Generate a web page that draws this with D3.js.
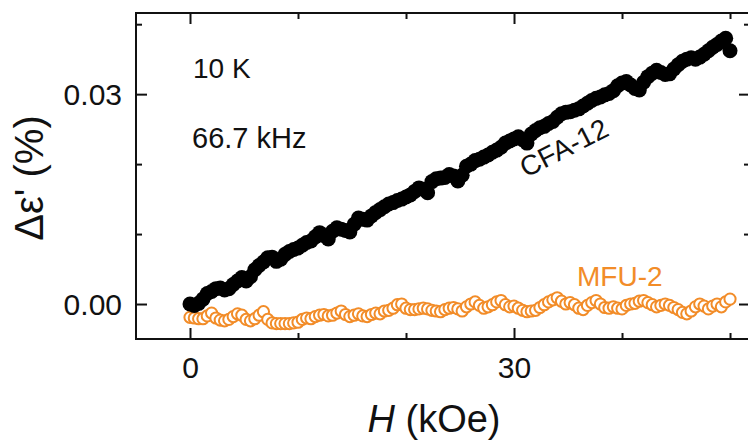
<!DOCTYPE html>
<html>
<head>
<meta charset="utf-8">
<script src="https://cdn.jsdelivr.net/npm/d3@7"></script>
<style>
  html, body { margin: 0; padding: 0; background: #fff; }
  svg { display: block; }
  text { font-family: "Liberation Sans", Arial, sans-serif; fill: #111; }
</style>
</head>
<body>
<svg id="chart" width="748" height="442"></svg>
<script>
// ---------------- data ----------------
const fieldKOe = [
  0.0, 0.4, 0.8, 1.2, 1.6, 2.0, 2.4, 2.8, 3.2, 3.6, 4.0, 4.4, 4.8, 5.2, 5.6, 6.0, 6.4, 6.8, 7.2, 7.6,
  8.0, 8.4, 8.8, 9.2, 9.6, 10.0, 10.4, 10.8, 11.2, 11.6, 12.0, 12.4, 12.8, 13.2, 13.6, 14.0, 14.4, 14.8, 15.2, 15.6,
  16.0, 16.4, 16.8, 17.2, 17.6, 18.0, 18.4, 18.8, 19.2, 19.6, 20.0, 20.4, 20.8, 21.2, 21.6, 22.0, 22.4, 22.8, 23.2, 23.6,
  24.0, 24.4, 24.8, 25.2, 25.6, 26.0, 26.4, 26.8, 27.2, 27.6, 28.0, 28.4, 28.8, 29.2, 29.6, 30.0, 30.4, 30.8, 31.2, 31.6,
  32.0, 32.4, 32.8, 33.2, 33.6, 34.0, 34.4, 34.8, 35.2, 35.6, 36.0, 36.4, 36.8, 37.2, 37.6, 38.0, 38.4, 38.8, 39.2, 39.6,
  40.0, 40.4, 40.8, 41.2, 41.6, 42.0, 42.4, 42.8, 43.2, 43.6, 44.0, 44.4, 44.8, 45.2, 45.6, 46.0, 46.4, 46.8, 47.2, 47.6,
  48.0, 48.4, 48.8, 49.2, 49.6, 50.0
];

// CFA-12, delta eps' (%)
const cfa12 = [
  0.0000, -0.0002, 0.0001, 0.0007, 0.0015, 0.0018, 0.0022, 0.0023, 0.0020, 0.0022, 0.0028, 0.0033, 0.0038, 0.0033, 0.0039, 0.0049, 0.0055, 0.0060, 0.0066, 0.0067,
  0.0061, 0.0064, 0.0071, 0.0075, 0.0078, 0.0080, 0.0084, 0.0088, 0.0090, 0.0096, 0.0102, 0.0098, 0.0093, 0.0104, 0.0109, 0.0107, 0.0105, 0.0103, 0.0114, 0.0123,
  0.0121, 0.0120, 0.0126, 0.0131, 0.0135, 0.0139, 0.0143, 0.0145, 0.0148, 0.0150, 0.0153, 0.0156, 0.0161, 0.0166, 0.0164, 0.0159, 0.0175, 0.0179, 0.0180, 0.0181,
  0.0185, 0.0183, 0.0176, 0.0184, 0.0197, 0.0200, 0.0205, 0.0207, 0.0210, 0.0213, 0.0217, 0.0220, 0.0224, 0.0230, 0.0233, 0.0236, 0.0239, 0.0235, 0.0230, 0.0243,
  0.0248, 0.0252, 0.0254, 0.0258, 0.0261, 0.0267, 0.0272, 0.0274, 0.0275, 0.0277, 0.0279, 0.0283, 0.0287, 0.0291, 0.0294, 0.0296, 0.0299, 0.0301, 0.0305, 0.0312,
  0.0316, 0.0318, 0.0313, 0.0308, 0.0306, 0.0317, 0.0325, 0.0330, 0.0334, 0.0331, 0.0328, 0.0329, 0.0336, 0.0342, 0.0347, 0.0350, 0.0352, 0.0350, 0.0353, 0.0357,
  0.0362, 0.0367, 0.0371, 0.0376, 0.0380, 0.0362
];

// MFU-2, delta eps' (%)
const mfu2 = [
  -0.0019, -0.0020, -0.0021, -0.0021, -0.0017, -0.0013, -0.0020, -0.0023, -0.0024, -0.0022, -0.0018, -0.0014, -0.0016, -0.0022, -0.0024, -0.0021, -0.0016, -0.0011, -0.0022, -0.0027,
  -0.0028, -0.0028, -0.0028, -0.0028, -0.0027, -0.0026, -0.0022, -0.0020, -0.0021, -0.0018, -0.0016, -0.0015, -0.0017, -0.0016, -0.0013, -0.0010, -0.0015, -0.0018, -0.0016, -0.0014,
  -0.0017, -0.0018, -0.0015, -0.0013, -0.0014, -0.0010, -0.0009, -0.0006, -0.0001, 0.0000, -0.0006, -0.0008, -0.0008, -0.0007, -0.0006, -0.0007, -0.0009, -0.0010, -0.0011, -0.0008,
  -0.0006, -0.0005, -0.0007, -0.0010, -0.0004, 0.0000, 0.0003, -0.0002, -0.0006, -0.0004, -0.0001, 0.0003, 0.0005, -0.0001, -0.0004, -0.0003, -0.0006, -0.0009, -0.0011, -0.0010,
  -0.0009, -0.0005, -0.0001, 0.0003, 0.0006, 0.0009, 0.0004, 0.0000, 0.0002, -0.0001, -0.0006, -0.0008, -0.0002, 0.0002, 0.0005, 0.0000, -0.0005, -0.0006, -0.0004, -0.0006,
  -0.0007, -0.0002, 0.0000, 0.0001, 0.0004, 0.0005, 0.0002, -0.0001, -0.0004, -0.0002, 0.0000, -0.0002, -0.0005, -0.0008, -0.0012, -0.0014, -0.0010, -0.0004, 0.0000, -0.0003,
  -0.0007, -0.0003, 0.0000, -0.0004, 0.0003, 0.0007
];

const xMajorTicks = [0, 30];
const xMinorTicks = [10, 20, 40, 50];
const yMajorTicks = [0.00, 0.03];
const yMinorTicks = [0.01, 0.02, 0.04];

const xTitleItalic = "H";
const xTitleRest = " (kOe)";
const yTitle = "Δε' (%)";
const annotations = ["10 K", "66.7 kHz"];
const seriesNames = ["CFA-12", "MFU-2"];

// ---------------- layout ----------------
const plot = { left: 136, right: 750, top: 13, bottom: 339 };
const orange = "#F28C28";

const svg = d3.select("#chart");

const x = d3.scaleLinear().domain([-5, 51.85]).range([plot.left, plot.right]);
const y = d3.scaleLinear().domain([-0.005, 0.0416]).range([plot.bottom, plot.top]);

// ---------------- series ----------------
const cfaData = fieldKOe.map((h, i) => ({ h, v: cfa12[i] }));
const mfuData = fieldKOe.map((h, i) => ({ h, v: mfu2[i] }));

svg.append("g").selectAll("circle")
  .data(mfuData).join("circle")
  .attr("cx", d => x(d.h)).attr("cy", d => y(d.v)).attr("r", 5.6)
  .attr("fill", "#fff").attr("stroke", orange).attr("stroke-width", 2);

svg.append("g").selectAll("circle")
  .data(cfaData).join("circle")
  .attr("cx", d => x(d.h)).attr("cy", d => y(d.v)).attr("r", 7.5)
  .attr("fill", "#000");

// ---------------- axes ----------------
function styleAxis(g) {
  g.select(".domain").remove();
  g.selectAll(".tick line").attr("stroke", "#111").attr("stroke-width", 2);
  g.selectAll(".tick text").attr("fill", "#111").style("font-family", '"Liberation Sans", Arial, sans-serif');
}

// bottom
svg.append("g").attr("transform", `translate(0,${plot.bottom})`)
  .call(d3.axisBottom(x).tickValues(xMinorTicks).tickSizeInner(-6).tickSizeOuter(0).tickFormat(""))
  .call(styleAxis);
svg.append("g").attr("transform", `translate(0,${plot.bottom})`)
  .call(d3.axisBottom(x).tickValues(xMajorTicks).tickSizeInner(-11).tickSizeOuter(0).tickPadding(18).tickFormat(d3.format("d")))
  .call(styleAxis)
  .call(g => g.selectAll(".tick text").style("font-size", "30px").attr("dy", "0.71em"));
// top
svg.append("g").attr("transform", `translate(0,${plot.top})`)
  .call(d3.axisTop(x).tickValues(xMinorTicks).tickSizeInner(-6).tickSizeOuter(0).tickFormat(""))
  .call(styleAxis);
svg.append("g").attr("transform", `translate(0,${plot.top})`)
  .call(d3.axisTop(x).tickValues(xMajorTicks).tickSizeInner(-11).tickSizeOuter(0).tickFormat(""))
  .call(styleAxis);
// left
svg.append("g").attr("transform", `translate(${plot.left},0)`)
  .call(d3.axisLeft(y).tickValues(yMinorTicks).tickSizeInner(-6).tickSizeOuter(0).tickFormat(""))
  .call(styleAxis);
svg.append("g").attr("transform", `translate(${plot.left},0)`)
  .call(d3.axisLeft(y).tickValues(yMajorTicks).tickSizeInner(-11).tickSizeOuter(0).tickPadding(14).tickFormat(d3.format(".2f")))
  .call(styleAxis)
  .call(g => g.selectAll(".tick text").style("font-size", "30px").attr("dy", "0.36em"));
// right
svg.append("g").attr("transform", `translate(${plot.right},0)`)
  .call(d3.axisRight(y).tickValues(yMinorTicks).tickSizeInner(-6).tickSizeOuter(0).tickFormat(""))
  .call(styleAxis);
svg.append("g").attr("transform", `translate(${plot.right},0)`)
  .call(d3.axisRight(y).tickValues(yMajorTicks).tickSizeInner(-11).tickSizeOuter(0).tickFormat(""))
  .call(styleAxis);

// frame
svg.append("rect")
  .attr("x", plot.left).attr("y", plot.top)
  .attr("width", plot.right - plot.left).attr("height", plot.bottom - plot.top)
  .attr("fill", "none").attr("stroke", "#111").attr("stroke-width", 2);

// ---------------- titles ----------------
const xt = svg.append("text")
  .attr("x", 434).attr("y", 432)
  .attr("text-anchor", "middle").style("font-size", "38px");
xt.append("tspan").style("font-style", "italic").text(xTitleItalic);
xt.append("tspan").text(xTitleRest);

svg.append("text")
  .attr("transform", "translate(43,178) rotate(-90)")
  .attr("text-anchor", "middle").style("font-size", "40px")
  .text(yTitle);

// ---------------- annotations ----------------
svg.append("text").attr("x", 193).attr("y", 78).style("font-size", "28px").text(annotations[0]);
svg.append("text").attr("x", 192).attr("y", 148).style("font-size", "29px").text(annotations[1]);

svg.append("text")
  .attr("transform", "translate(526,178) rotate(-27)")
  .style("font-size", "28px").text(seriesNames[0]);

svg.append("text")
  .attr("x", 577).attr("y", 286)
  .style("font-size", "28px").style("fill", orange).text(seriesNames[1]);
</script>
</body>
</html>
